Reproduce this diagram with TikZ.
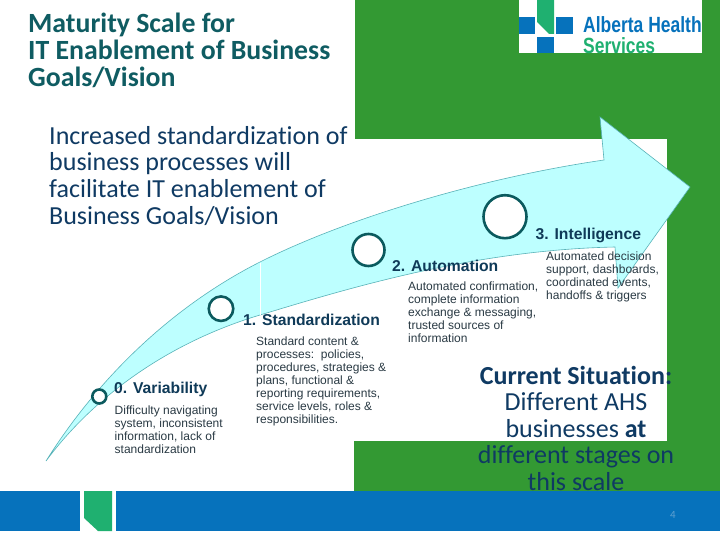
\documentclass[tikz,border=0pt]{standalone}
\usepackage{fontspec}
\setmainfont{Liberation Sans}
\newfontfamily\titlefont[Ligatures=NoCommon]{Carlito}
\newfontfamily\logofont{Liberation Sans}
\definecolor{bandgreen}{HTML}{339933}
\definecolor{bandblue}{HTML}{0672BC}
\definecolor{leafgreen}{HTML}{1FB070}
\definecolor{arrowfill}{HTML}{BDFFFF}
\definecolor{arrowline}{HTML}{58B2B8}
\definecolor{ringcol}{HTML}{0B5A5E}
\definecolor{titlecol}{HTML}{0F5C62}
\definecolor{subcol}{HTML}{0F3A63}
\definecolor{headcol}{HTML}{0F3A58}
\definecolor{bodycol}{HTML}{2A3A44}
\definecolor{sitcol}{HTML}{0F3A63}
\definecolor{pagecol}{HTML}{5FA0D0}
\tikzset{
 titletext/.style={anchor=north west,inner sep=0pt,align=left,text=titlecol,font=\titlefont\bfseries\fontsize{27.8}{26.7}\selectfont},
 subtext/.style={anchor=north west,inner sep=0pt,align=left,text=subcol,font=\titlefont\fontsize{26}{26.7}\selectfont},
 stagehead/.style={anchor=west,inner sep=0pt,text=headcol,font=\bfseries\fontsize{15.7}{16}\selectfont},
 stagebody/.style={anchor=north west,inner sep=0pt,align=left,text=bodycol,font=\fontsize{12}{13}\selectfont},
 ring/.style={circle,draw=ringcol,fill=white,line width=2.6pt,inner sep=0pt},
 logotext/.style={anchor=west,inner sep=0pt,font=\logofont\bfseries\fontsize{22}{22}\selectfont,xscale=0.795,transform shape},
}
\begin{document}
\begin{tikzpicture}[x=1pt,y=-1pt]
\useasboundingbox (0,0) rectangle (720,540);
\fill[white] (0,0) rectangle (720,540);
\fill[bandgreen] (355,0) -- (720,0) -- (720,492) -- (354,492) -- (354,441) -- (667,441) -- (667,139) -- (355,139) -- cycle;
\fill[bandblue] (0,491) rectangle (80,531);
\fill[bandblue] (116,491) rectangle (720,531);
\fill[leafgreen] (84,491) -- (112,491) -- (112,531) -- (98,531) -- (84,518) -- cycle;
\fill[white] (519,0) rectangle (702,53);
\fill[bandblue] (519,17) rectangle (535,34);
\fill[bandblue] (556,17) rectangle (573,34);
\fill[bandblue] (537,37) rectangle (554,53);
\fill[leafgreen] (537,0) -- (554,0) -- (554,34) -- (549,34) -- (537,22) -- cycle;
\node[logotext,text=bandblue] (logoa) at (583,25) {Alberta Health};
\node[logotext,text=leafgreen] (logob) at (583,45.5) {Services};
\draw[fill=arrowfill,draw=arrowline,line width=0.6pt,line join=miter]
  (46,461) .. controls (100,375) and (175,305) .. (260,262)
  .. controls (345,219) and (480,178) .. (604,160)
  -- (600,117) -- (690,187) -- (618,288) -- (615,247)
  .. controls (470,250) and (340,291) .. (260,315)
  .. controls (170,342) and (95,395) .. (46,461) -- cycle;
\draw[white,line width=0.6pt] (260.5,263) -- (260.5,315);
\node[ring,minimum size=14pt] (r0) at (99.3,396.5) {};
\node[ring,minimum size=24.5pt] (r1) at (221,308.7) {};
\node[ring,minimum size=32pt] (r2) at (368.5,250) {};
\node[ring,minimum size=43pt] (r3) at (505,216.7) {};
\node[titletext] (title) at (28,13) {Maturity Scale for\\IT Enablement of Business\\Goals/Vision};
\node[subtext] (sub) at (49,126) {Increased standardization of\\business processes will\\facilitate IT enablement of\\Business Goals/Vision};
\node[stagehead] (h0) at (114,389) {0. Variability};
\node[stagebody] (b0) at (114.5,406) {Difficulty navigating\\system, inconsistent\\information, lack of\\standardization};
\node[stagehead] (h1) at (243,320) {1. Standardization};
\node[stagebody] (b1) at (256,337) {Standard content \&\\processes:\ \ policies,\\procedures, strategies \&\\plans, functional \&\\reporting requirements,\\service levels, roles \&\\responsibilities.};
\node[stagehead] (h2) at (392,265.5) {2. Automation};
\node[stagebody] (b2) at (408,282) {Automated confirmation,\\complete information\\exchange \& messaging,\\trusted sources of\\information};
\node[stagehead] (h3) at (535.5,235) {3. Intelligence};
\node[stagebody] (b3) at (546,252) {Automated decision\\support, dashboards,\\coordinated events,\\handoffs \& triggers};
\node[anchor=north,inner sep=0pt,align=center,text=sitcol,font=\titlefont\fontsize{26}{26.5}\selectfont] (sit) at (576,366) {\textbf{Current Situation:}\\Different AHS\\businesses \textbf{at}\\different stages on\\this scale};
\node[inner sep=0pt,text=pagecol,font=\titlefont\fontsize{11}{12}\selectfont] (pg) at (673,515) {4};
\end{tikzpicture}
\end{document}
